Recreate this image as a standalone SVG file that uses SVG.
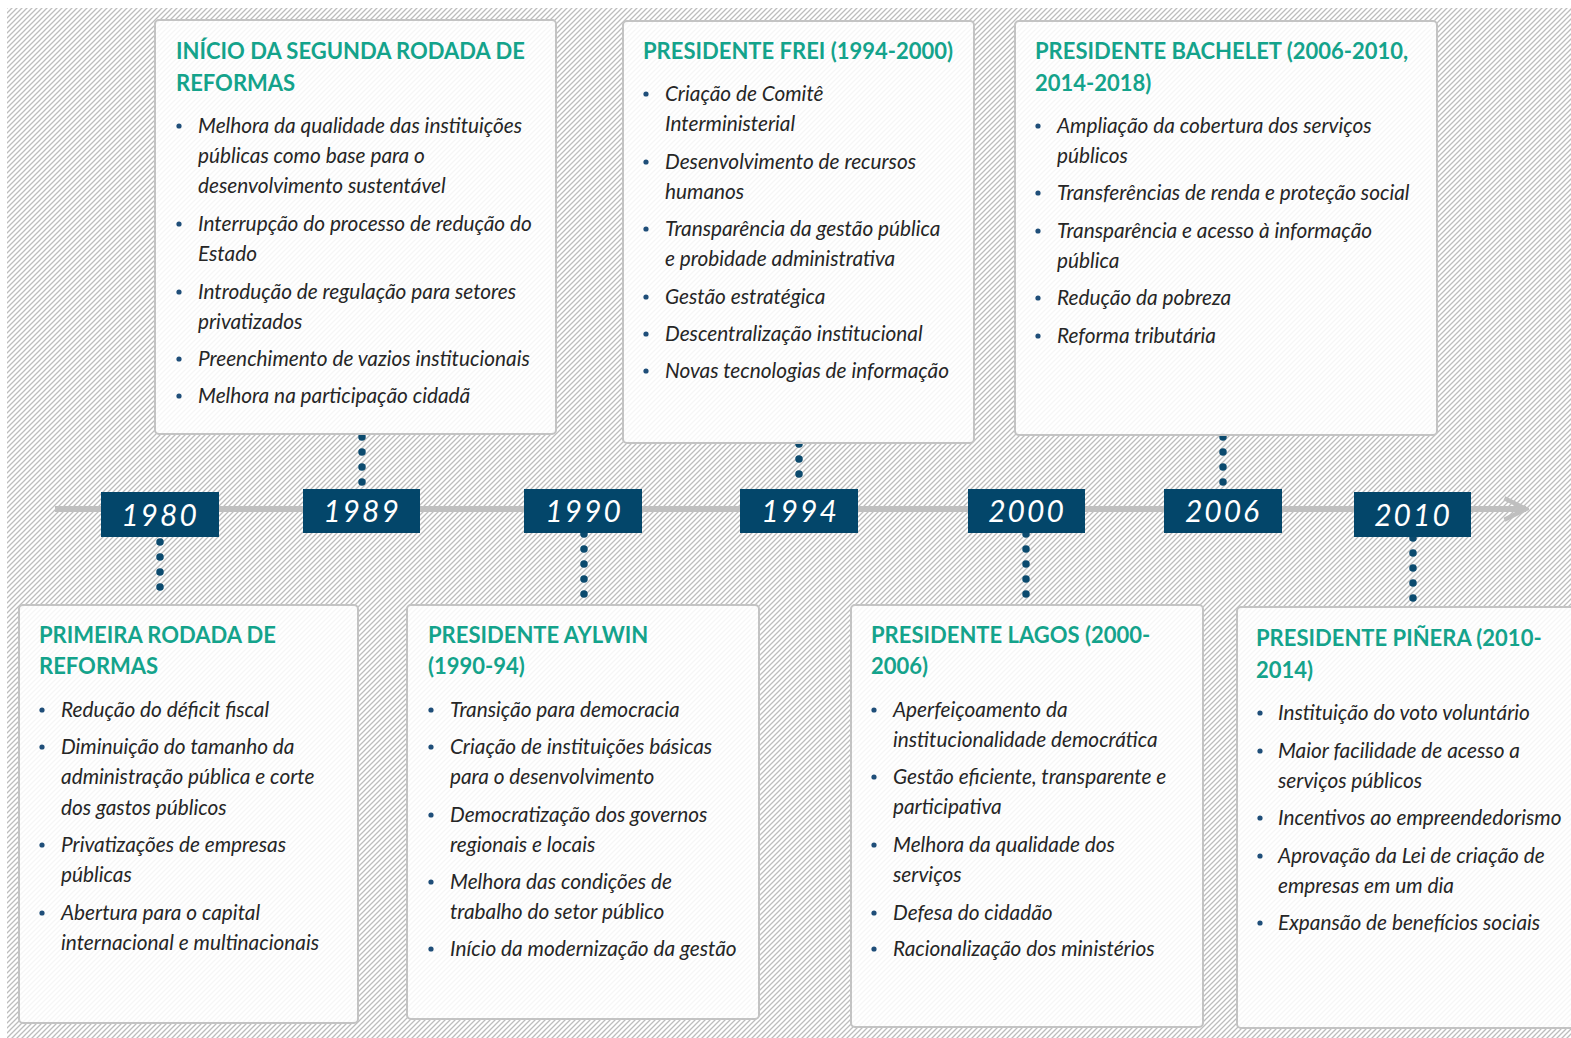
<svg xmlns="http://www.w3.org/2000/svg" width="1571" height="1038" viewBox="0 0 1571 1038">
<defs>
<pattern id="hatch" patternUnits="userSpaceOnUse" width="5" height="5">
<path d="M-1,1 l2,-2 M0,5 l5,-5 M4,6 l2,-2" stroke="#bdbdbd" stroke-width="1.3" fill="none"/>
</pattern>
<marker id="chev" viewBox="0 0 10 10" refX="9" refY="5" markerWidth="4.5" markerHeight="4.5" orient="auto" markerUnits="strokeWidth">
<path d="M1,1 L9,5 L1,9" fill="none" stroke="#bfbfbf" stroke-width="1.6" stroke-linejoin="miter"/>
</marker>
<style>
.box{fill:#ffffff;fill-opacity:0.86;stroke:#c3c3c3;stroke-width:2}
.t{font-family:Lato,"Open Sans",sans-serif;font-weight:700;font-size:22px;fill:#14a38b}
.b{font-family:Lato,"Open Sans",sans-serif;font-style:italic;font-size:20.8px;fill:#262626}
.dot{fill:#1f4e79}
.yr{fill:#03466a}
.yt{font-family:Lato,"Open Sans",sans-serif;font-style:italic;font-size:30px;fill:#ffffff;text-anchor:middle;letter-spacing:2px}
.conn{stroke:#0b4a6e;stroke-width:7.5;stroke-linecap:round;stroke-dasharray:0 15;fill:none}
</style>
</defs>
<rect x="0" y="0" width="1571" height="1038" fill="#ffffff"/>
<rect x="7" y="8" width="1564" height="1030" fill="url(#hatch)"/>

<g id="timeline">
<line x1="55" y1="509" x2="1526" y2="509" stroke="#bfbfbf" stroke-width="6" marker-end="url(#chev)"/>
</g>

<g id="connectors">
<line class="conn" x1="160" y1="542" x2="160" y2="590"/>
<line class="conn" x1="362" y1="437" x2="362" y2="485"/>
<line class="conn" x1="584" y1="534" x2="584" y2="597"/>
<line class="conn" x1="799" y1="444" x2="799" y2="477"/>
<line class="conn" x1="1026" y1="534" x2="1026" y2="597"/>
<line class="conn" x1="1223" y1="437" x2="1223" y2="485"/>
<line class="conn" x1="1413" y1="538" x2="1413" y2="600"/>
</g>

<g id="y1980"><rect class="yr" x="101" y="492" width="118" height="45"/><text class="yt" x="160" y="526">1980</text></g>
<g id="y1989"><rect class="yr" x="303" y="489" width="117" height="44"/><text class="yt" x="362" y="522">1989</text></g>
<g id="y1990"><rect class="yr" x="524" y="489" width="118" height="44"/><text class="yt" x="584" y="522">1990</text></g>
<g id="y1994"><rect class="yr" x="740" y="489" width="118" height="44"/><text class="yt" x="800" y="522">1994</text></g>
<g id="y2000"><rect class="yr" x="968" y="489" width="117" height="44"/><text class="yt" x="1027" y="522">2000</text></g>
<g id="y2006"><rect class="yr" x="1164" y="489" width="118" height="44"/><text class="yt" x="1223" y="522">2006</text></g>
<g id="y2010"><rect class="yr" x="1354" y="492" width="117" height="45"/><text class="yt" x="1413" y="526">2010</text></g>

<g id="n-segunda">
<rect class="box" x="155" y="20" width="401" height="414" rx="4"/>
<text class="t" x="176"><tspan x="176" y="59">INÍCIO DA SEGUNDA RODADA DE</tspan><tspan x="176" y="91">REFORMAS</tspan></text>
<circle class="dot" cx="179" cy="126" r="2.6"/><circle class="dot" cx="179" cy="224" r="2.6"/><circle class="dot" cx="179" cy="292" r="2.6"/><circle class="dot" cx="179" cy="359" r="2.6"/><circle class="dot" cx="179" cy="396" r="2.6"/>
<text class="b"><tspan x="198" y="133">Melhora da qualidade das instituições</tspan><tspan x="198" y="163">públicas como base para o</tspan><tspan x="198" y="193">desenvolvimento sustentável</tspan><tspan x="198" y="231">Interrupção do processo de redução do</tspan><tspan x="198" y="261">Estado</tspan><tspan x="198" y="299">Introdução de regulação para setores</tspan><tspan x="198" y="329">privatizados</tspan><tspan x="198" y="366">Preenchimento de vazios institucionais</tspan><tspan x="198" y="403">Melhora na participação cidadã</tspan></text>
</g>

<g id="n-frei">
<rect class="box" x="623" y="21" width="351" height="422" rx="4"/>
<text class="t" x="643" y="59">PRESIDENTE FREI (1994-2000)</text>
<circle class="dot" cx="646" cy="94" r="2.6"/><circle class="dot" cx="646" cy="162" r="2.6"/><circle class="dot" cx="646" cy="229" r="2.6"/><circle class="dot" cx="646" cy="297" r="2.6"/><circle class="dot" cx="646" cy="334" r="2.6"/><circle class="dot" cx="646" cy="371" r="2.6"/>
<text class="b"><tspan x="665" y="101">Criação de Comitê</tspan><tspan x="665" y="131">Interministerial</tspan><tspan x="665" y="169">Desenvolvimento de recursos</tspan><tspan x="665" y="199">humanos</tspan><tspan x="665" y="236">Transparência da gestão pública</tspan><tspan x="665" y="266">e probidade administrativa</tspan><tspan x="665" y="304">Gestão estratégica</tspan><tspan x="665" y="341">Descentralização institucional</tspan><tspan x="665" y="378">Novas tecnologias de informação</tspan></text>
</g>

<g id="n-bachelet">
<rect class="box" x="1015" y="21" width="422" height="414" rx="4"/>
<text class="t"><tspan x="1035" y="59">PRESIDENTE BACHELET (2006-2010,</tspan><tspan x="1035" y="91">2014-2018)</tspan></text>
<circle class="dot" cx="1038" cy="126" r="2.6"/><circle class="dot" cx="1038" cy="193" r="2.6"/><circle class="dot" cx="1038" cy="231" r="2.6"/><circle class="dot" cx="1038" cy="298" r="2.6"/><circle class="dot" cx="1038" cy="336" r="2.6"/>
<text class="b"><tspan x="1057" y="133">Ampliação da cobertura dos serviços</tspan><tspan x="1057" y="163">públicos</tspan><tspan x="1057" y="200">Transferências de renda e proteção social</tspan><tspan x="1057" y="238">Transparência e acesso à informação</tspan><tspan x="1057" y="268">pública</tspan><tspan x="1057" y="305">Redução da pobreza</tspan><tspan x="1057" y="343">Reforma tributária</tspan></text>
</g>

<g id="n-primeira">
<rect class="box" x="19" y="605" width="339" height="418" rx="4"/>
<text class="t"><tspan x="39" y="643">PRIMEIRA RODADA DE</tspan><tspan x="39" y="674">REFORMAS</tspan></text>
<circle class="dot" cx="42" cy="710" r="2.6"/><circle class="dot" cx="42" cy="747" r="2.6"/><circle class="dot" cx="42" cy="845" r="2.6"/><circle class="dot" cx="42" cy="913" r="2.6"/>
<text class="b"><tspan x="61" y="717">Redução do déficit fiscal</tspan><tspan x="61" y="754">Diminuição do tamanho da</tspan><tspan x="61" y="784">administração pública e corte</tspan><tspan x="61" y="815">dos gastos públicos</tspan><tspan x="61" y="852">Privatizações de empresas</tspan><tspan x="61" y="882">públicas</tspan><tspan x="61" y="920">Abertura para o capital</tspan><tspan x="61" y="950">internacional e multinacionais</tspan></text>
</g>

<g id="n-aylwin">
<rect class="box" x="407" y="605" width="352" height="414" rx="4"/>
<text class="t"><tspan x="428" y="643">PRESIDENTE AYLWIN</tspan><tspan x="428" y="674">(1990-94)</tspan></text>
<circle class="dot" cx="431" cy="710" r="2.6"/><circle class="dot" cx="431" cy="747" r="2.6"/><circle class="dot" cx="431" cy="815" r="2.6"/><circle class="dot" cx="431" cy="882" r="2.6"/><circle class="dot" cx="431" cy="949" r="2.6"/>
<text class="b"><tspan x="450" y="717">Transição para democracia</tspan><tspan x="450" y="754">Criação de instituições básicas</tspan><tspan x="450" y="784">para o desenvolvimento</tspan><tspan x="450" y="822">Democratização dos governos</tspan><tspan x="450" y="852">regionais e locais</tspan><tspan x="450" y="889">Melhora das condições de</tspan><tspan x="450" y="919">trabalho do setor público</tspan><tspan x="450" y="956">Início da modernização da gestão</tspan></text>
</g>

<g id="n-lagos">
<rect class="box" x="851" y="605" width="352" height="422" rx="4"/>
<text class="t"><tspan x="871" y="643">PRESIDENTE LAGOS (2000-</tspan><tspan x="871" y="674">2006)</tspan></text>
<circle class="dot" cx="874" cy="710" r="2.6"/><circle class="dot" cx="874" cy="777" r="2.6"/><circle class="dot" cx="874" cy="845" r="2.6"/><circle class="dot" cx="874" cy="913" r="2.6"/><circle class="dot" cx="874" cy="949" r="2.6"/>
<text class="b"><tspan x="893" y="717">Aperfeiçoamento da</tspan><tspan x="893" y="747">institucionalidade democrática</tspan><tspan x="893" y="784">Gestão eficiente, transparente e</tspan><tspan x="893" y="814">participativa</tspan><tspan x="893" y="852">Melhora da qualidade dos</tspan><tspan x="893" y="882">serviços</tspan><tspan x="893" y="920">Defesa do cidadão</tspan><tspan x="893" y="956">Racionalização dos ministérios</tspan></text>
</g>

<g id="n-pinera">
<rect class="box" x="1237" y="607" width="360" height="421" rx="4"/>
<text class="t"><tspan x="1256" y="646">PRESIDENTE PIÑERA (2010-</tspan><tspan x="1256" y="678">2014)</tspan></text>
<circle class="dot" cx="1260" cy="713" r="2.6"/><circle class="dot" cx="1260" cy="751" r="2.6"/><circle class="dot" cx="1260" cy="818" r="2.6"/><circle class="dot" cx="1260" cy="856" r="2.6"/><circle class="dot" cx="1260" cy="923" r="2.6"/>
<text class="b"><tspan x="1278" y="720">Instituição do voto voluntário</tspan><tspan x="1278" y="758">Maior facilidade de acesso a</tspan><tspan x="1278" y="788">serviços públicos</tspan><tspan x="1278" y="825">Incentivos ao empreendedorismo</tspan><tspan x="1278" y="863">Aprovação da Lei de criação de</tspan><tspan x="1278" y="893">empresas em um dia</tspan><tspan x="1278" y="930">Expansão de benefícios sociais</tspan></text>
</g>
</svg>
